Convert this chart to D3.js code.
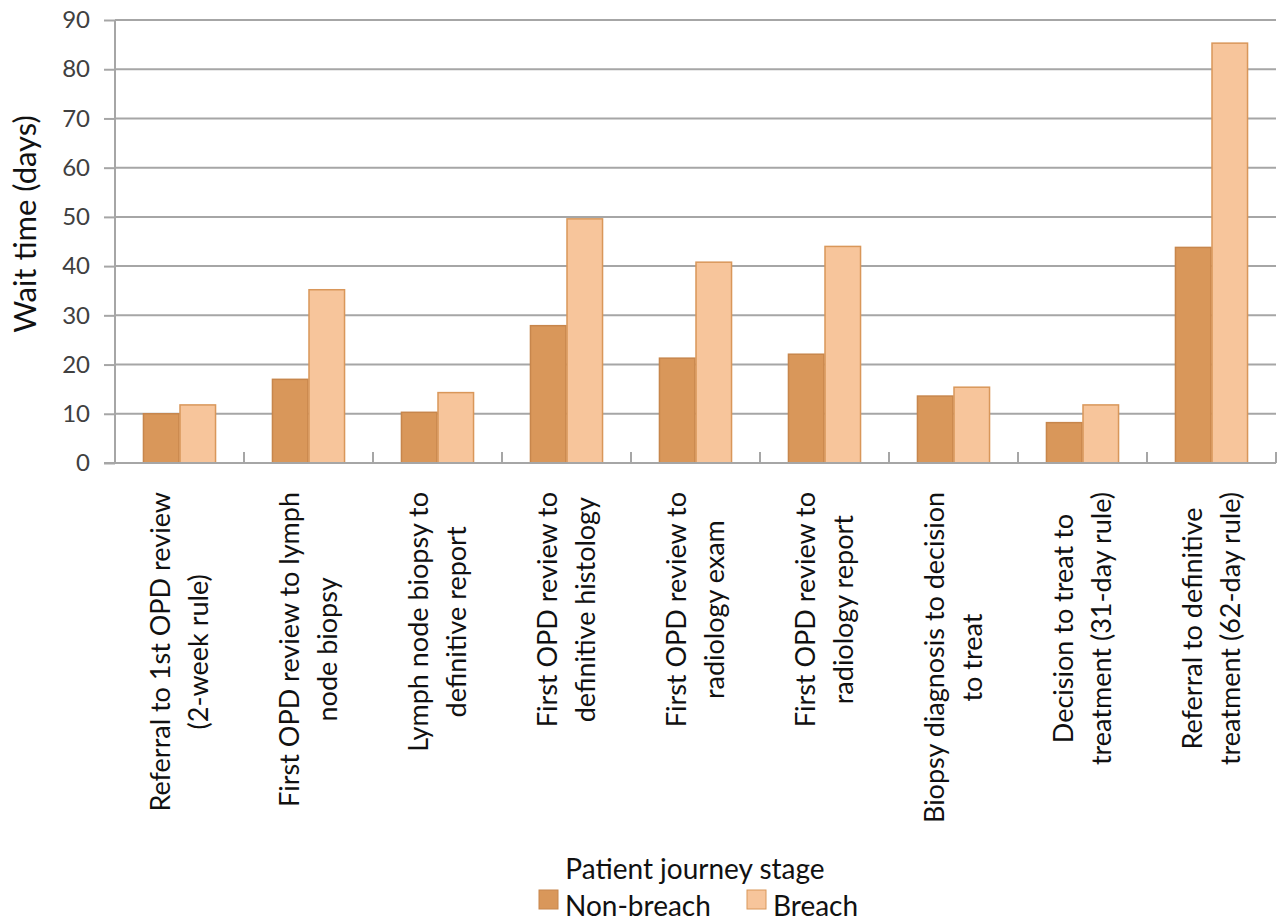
<!DOCTYPE html>
<html>
<head>
<meta charset="utf-8">
<script src="https://cdn.jsdelivr.net/npm/d3@7"></script>
<style>
  body { margin: 0; background: #fff; }
  svg { font-family: Lato, "Open Sans", sans-serif; }
</style>
</head>
<body>
<svg width="1280" height="924"></svg>
<script>
// chart data
var stages = [
  ["Referral to 1st OPD review", "(2-week rule)"],
  ["First OPD review to lymph", "node biopsy"],
  ["Lymph node biopsy to", "definitive report"],
  ["First OPD review to", "definitive histology"],
  ["First OPD review to", "radiology exam"],
  ["First OPD review to", "radiology report"],
  ["Biopsy diagnosis to decision", "to treat"],
  ["Decision to treat to", "treatment (31-day rule)"],
  ["Referral to definitive", "treatment (62-day rule)"]
];
var nonBreach = [10, 17, 10.3, 27.9, 21.3, 22.1, 13.6, 8.2, 43.8];
var breach = [11.8, 35.2, 14.3, 49.6, 40.8, 44.0, 15.4, 11.8, 85.3];
var series = ["Non-breach", "Breach"];
var yTicks = [0, 10, 20, 30, 40, 50, 60, 70, 80, 90];

var fills = { "Non-breach": "#d9975a", "Breach": "#f7c59b" };
var strokes = { "Non-breach": "#c7864c", "Breach": "#d9975a" };

var svg = d3.select('svg');
var pLeft = 115, pRight = 1276, pTop = 20, pBottom = 463;
var gridCol = '#a6a6a6';

var x = d3.scaleBand()
  .domain(d3.range(stages.length))
  .range([pLeft, pRight]);

var x1 = d3.scaleBand()
  .domain(series)
  .range([0, x.bandwidth()])
  .paddingOuter(0.765)
  .paddingInner(0);

var y = d3.scaleLinear().domain([0, 90]).range([pBottom, pTop]);

//grid lines + y labels
var yAxis = svg.append('g')
  .attr('transform', 'translate(' + pLeft + ',0)')
  .call(d3.axisLeft(y).tickValues(yTicks).tickSize(11).tickPadding(14));
yAxis.select('.domain').remove();
yAxis.selectAll('.tick line').attr('stroke', gridCol).attr('stroke-width', 2);
yAxis.selectAll('.tick text')
  .attr('fill', '#404040')
  .style('font-size', '24px')
  .style('font-family', 'Lato, sans-serif');

svg.append('g').selectAll('line')
  .data(yTicks.filter(d => d > 0))
  .enter().append('line')
  .attr('x1', pLeft).attr('x2', pRight)
  .attr('y1', d => y(d)).attr('y2', d => y(d))
  .attr('stroke', gridCol).attr('stroke-width', 2);

// bars
var groups = svg.append('g').selectAll('g')
  .data(stages)
  .enter().append('g')
  .attr('transform', (d, i) => 'translate(' + x(i) + ',0)');

groups.selectAll('rect')
  .data((d, i) => [
    { s: "Non-breach", v: nonBreach[i] },
    { s: "Breach", v: breach[i] }
  ])
  .enter().append('rect')
  .attr('x', d => x1(d.s) + 0.5)
  .attr('width', x1.bandwidth() - 1)
  .attr('y', d => y(d.v))
  .attr('height', d => y(0) - y(d.v))
  .attr('fill', d => fills[d.s])
  .attr('stroke', d => strokes[d.s])
  .attr('stroke-width', 1.5);

// x axis
var xAxis = svg.append('g')
  .attr('transform', 'translate(0,' + pBottom + ')');
xAxis.append('line')
  .attr('x1', pLeft - 11).attr('x2', pRight)
  .attr('stroke', gridCol).attr('stroke-width', 2);
xAxis.selectAll('.tk')
  .data(d3.range(stages.length + 1))
  .enter().append('line')
  .attr('class', 'tk')
  .attr('x1', d => pLeft + d * x.bandwidth())
  .attr('x2', d => pLeft + d * x.bandwidth())
  .attr('y1', 0).attr('y2', -11)
  .attr('stroke', gridCol).attr('stroke-width', 2);
// y axis line
svg.append('line')
  .attr('x1', pLeft).attr('x2', pLeft)
  .attr('y1', pTop).attr('y2', pBottom)
  .attr('stroke', gridCol).attr('stroke-width', 2);

// category labels, rotated
var labelTop = 492, lineGap = 38;
stages.forEach(function (lines, i) {
  var cx = x(i) + x.bandwidth() / 2;
  var g = svg.append('g');
  var texts = lines.map(function (t) {
    return g.append('text')
      .text(t)
      .attr('text-anchor', 'middle')
      .attr('fill', '#111')
      .style('font-size', '27px');
  });
  var maxLen = d3.max(texts, t => t.node().getComputedTextLength());
  var cy = labelTop + maxLen / 2;
  texts.forEach(function (t, j) {
    var off = (j - (lines.length - 1) / 2) * lineGap;
    t.attr('transform', 'translate(' + (cx + off + 9) + ',' + cy + ') rotate(-90)');
  });
});

// axis titles
svg.append('text')
  .attr('transform', 'translate(36,224) rotate(-90)')
  .attr('text-anchor', 'middle')
  .attr('fill', '#111')
  .style('font-size', '31px')
  .text('Wait time (days)');

svg.append('text')
  .attr('x', 695).attr('y', 879)
  .attr('text-anchor', 'middle')
  .attr('fill', '#111')
  .style('font-size', '28px')
  .text('Patient journey stage');

// legend
var legend = svg.append('g');
var legX = [539, 747];
series.forEach(function (s, i) {
  legend.append('rect')
    .attr('x', legX[i]).attr('y', 890)
    .attr('width', 19).attr('height', 19)
    .attr('fill', fills[s])
    .attr('stroke', strokes[s]);
  legend.append('text')
    .attr('x', legX[i] + 26).attr('y', 916)
    .attr('fill', '#111')
    .style('font-size', '28px')
    .text(s);
});
</script>
</body>
</html>
